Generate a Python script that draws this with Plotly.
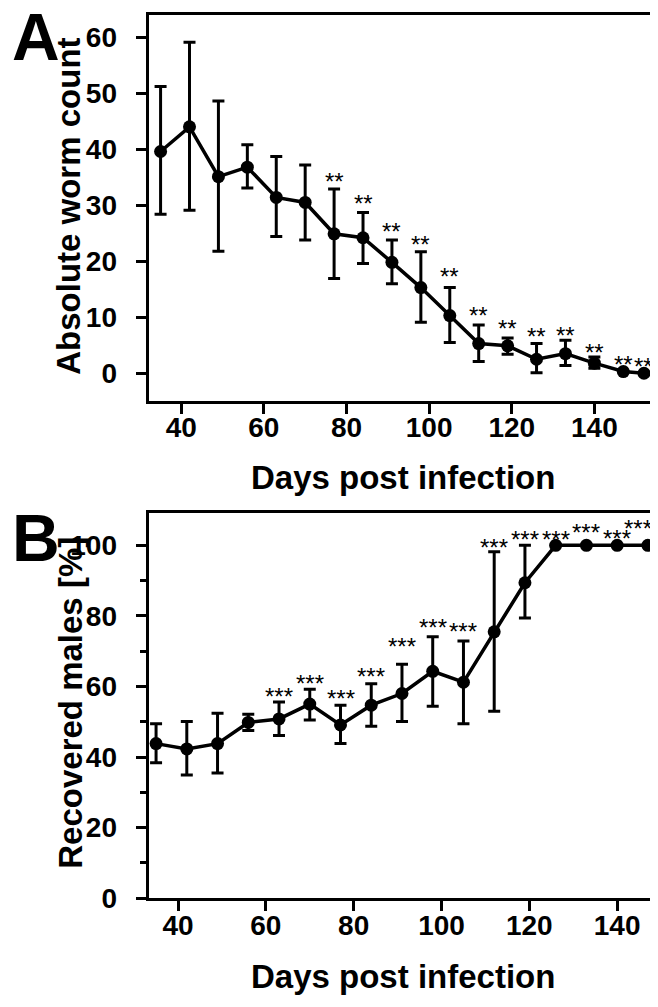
import plotly.graph_objects as go

# ---------------- Panel A data ----------------
days_A = [35, 42, 49, 56, 63, 70, 77, 84, 91, 98, 105, 112, 119, 126, 133, 140, 147, 152]
worm_mean = [39.6, 44.0, 35.1, 36.8, 31.4, 30.5, 24.9, 24.2, 19.8, 15.3, 10.3, 5.3, 4.9, 2.5, 3.5, 1.8, 0.3, 0.0]
worm_upper = [51.2, 59.1, 48.6, 40.8, 38.7, 37.2, 32.9, 28.7, 23.8, 21.7, 15.3, 8.6, 6.3, 5.3, 5.9, 2.9, 0.3, 0.0]
worm_lower = [28.4, 29.1, 21.8, 33.1, 24.4, 23.8, 16.9, 19.6, 16.0, 9.1, 5.5, 2.1, 3.4, 0.1, 1.4, 0.9, 0.3, 0.0]
stars_A_days = [77, 84, 91, 98, 105, 112, 119, 126, 133, 140, 147, 152]
stars_A_level = [35.4, 31.3, 26.3, 24.1, 18.4, 11.4, 9.0, 7.6, 7.8, 4.8, 2.7, 2.2]
stars_A_text = "**"
yticks_A = [0, 10, 20, 30, 40, 50, 60]
xticks_A = [40, 60, 80, 100, 120, 140]

# ---------------- Panel B data ----------------
days_B = [35, 42, 49, 56, 63, 70, 77, 84, 91, 98, 105, 112, 119, 126, 133, 140, 147]
males_mean = [43.8, 42.3, 43.8, 49.8, 50.8, 55.0, 49.1, 54.7, 58.0, 64.3, 61.2, 75.5, 89.4, 100, 100, 100, 100]
males_upper = [49.4, 50.1, 52.4, 52.1, 55.6, 59.2, 54.7, 60.8, 66.3, 74.1, 72.9, 98.2, 100.0, 100, 100, 100, 100]
males_lower = [38.4, 34.9, 35.5, 47.5, 46.1, 50.5, 43.8, 48.7, 50.1, 54.4, 49.4, 53.0, 79.4, 100, 100, 100, 100]
stars_B_days = [63, 70, 77, 84, 91, 98, 105, 112, 119, 126, 133, 140, 147]
stars_B_level = [58.9, 62.6, 58.4, 64.5, 73.1, 78.4, 77.2, 101.0, 103.3, 103.5, 105.4, 103.7, 106.6]
stars_B_text = "***"
yticks_B = [0, 20, 40, 60, 80, 100]
xticks_B = [40, 60, 80, 100, 120, 140]

FONT = "Liberation Sans, Arial, Helvetica, sans-serif"
W, H = 658, 1007


def px(x):
    return x / W


def py(y):
    return 1 - y / H


def series(xs, mean, upper, lower, xa, ya):
    return go.Scatter(
        x=xs, y=mean, xaxis=xa, yaxis=ya,
        mode="lines+markers",
        line=dict(color="black", width=3.5),
        marker=dict(color="black", size=13),
        error_y=dict(
            type="data", symmetric=False,
            array=[u - m for u, m in zip(upper, mean)],
            arrayminus=[m - l for m, l in zip(mean, lower)],
            color="black", thickness=3, width=6,
        ),
        showlegend=False, hoverinfo="skip",
    )


fig = go.Figure()
fig.add_trace(series(days_A, worm_mean, worm_upper, worm_lower, "x", "y"))
fig.add_trace(series(days_B, males_mean, males_upper, males_lower, "x2", "y2"))

tickfont = dict(family=FONT, size=28, color="black", weight="bold")
common = dict(
    showline=True, linewidth=3, linecolor="black", mirror=True,
    ticks="outside", ticklen=10, tickwidth=3, tickcolor="black",
    showgrid=False, zeroline=False, tickfont=tickfont,
)

xdom = [px(140.6), px(650)]
fig.update_layout(
    width=W, height=H, autosize=False,
    margin=dict(l=0, r=0, t=0, b=0),
    paper_bgcolor="white", plot_bgcolor="white",
    xaxis=dict(domain=xdom, range=[32.1, 155.4], tickvals=xticks_A,
               anchor="y", ticklabelstandoff=-10, **common),
    yaxis=dict(domain=[py(399), py(7)], range=[-4.9, 64], tickvals=yticks_A,
               anchor="x", ticklabelstandoff=13, **common),
    xaxis2=dict(domain=xdom, range=[33.3, 149.3], tickvals=xticks_B,
                anchor="y2", ticklabelstandoff=-10, **common),
    yaxis2=dict(domain=[py(904.5), py(512.7)], range=[0, 109.3], tickvals=yticks_B,
                anchor="x2", ticklabelstandoff=13,
                minor=dict(ticks="outside", ticklen=6, tickwidth=3, tickcolor="black", dtick=10),
                **common),
)

annotations = []
for d, lvl in zip(stars_A_days, stars_A_level):
    annotations.append(dict(x=d, y=lvl, xref="x", yref="y", text=stars_A_text,
                            showarrow=False, yanchor="middle", yshift=-6,
                            font=dict(family=FONT, size=24, color="black")))
for i, (d, lvl) in enumerate(zip(stars_B_days, stars_B_level)):
    annotations.append(dict(x=d, y=lvl, xref="x2", yref="y2", text=stars_B_text,
                            showarrow=False, yanchor="middle", yshift=-6,
                            xshift=-10 if i == len(stars_B_days) - 1 else 0,
                            font=dict(family=FONT, size=24, color="black")))

title_font = dict(family=FONT, size=33, color="black", weight="bold")
letter_font = dict(family=FONT, size=66, color="black", weight="bold")
annotations += [
    dict(text="Absolute worm count", x=px(61), y=py(202), xref="paper", yref="paper",
         textangle=-90, showarrow=False, xanchor="center", yanchor="middle", font=title_font),
    dict(text="Days post infection", x=px(395), y=py(477), xref="paper", yref="paper",
         showarrow=False, xanchor="center", yanchor="middle", font=title_font),
    dict(text="Recovered males [%]", x=px(62.5), y=py(706.5), xref="paper", yref="paper",
         textangle=-90, showarrow=False, xanchor="center", yanchor="middle", font=title_font),
    dict(text="Days post infection", x=px(395), y=py(984), xref="paper", yref="paper",
         showarrow=False, xanchor="center", yanchor="middle", font=title_font),
    dict(text="A", x=px(28), y=py(29), xref="paper", yref="paper",
         showarrow=False, xanchor="center", yanchor="middle", font=letter_font),
    dict(text="B", x=px(28), y=py(539), xref="paper", yref="paper",
         showarrow=False, xanchor="center", yanchor="middle", font=letter_font),
]
fig.update_layout(annotations=annotations)

fig.write_html("out.html")
